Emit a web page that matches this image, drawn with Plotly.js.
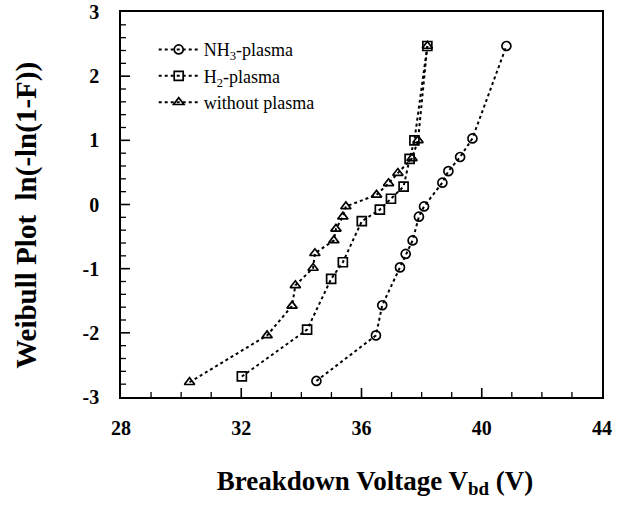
<!DOCTYPE html>
<html>
<head>
<meta charset="utf-8">
<script src="https://cdn.plot.ly/plotly-3.0.1.min.js"></script>
<style>body{margin:0;padding:0;background:#fff;} #chart{width:626px;height:506px;}</style>
</head>
<body>
<div id="chart"></div>
<script>
// NH3-plasma (circles)
const nh3X = [34.5, 36.48, 36.69, 37.28, 37.47, 37.7, 37.91, 38.08, 38.69, 38.89, 39.28, 39.69, 40.82];
const nh3Y = [-2.75, -2.04, -1.57, -0.98, -0.77, -0.56, -0.19, -0.03, 0.34, 0.52, 0.74, 1.03, 2.47];
// H2-plasma (squares)
const h2X = [32.02, 34.19, 34.99, 35.38, 36.01, 36.61, 36.98, 37.4, 37.6, 37.76, 38.19];
const h2Y = [-2.68, -1.95, -1.16, -0.9, -0.26, -0.08, 0.09, 0.28, 0.71, 1.0, 2.47];
// without plasma (triangles)
const woX = [30.28, 32.86, 33.69, 33.8, 34.39, 34.45, 35.08, 35.15, 35.38, 35.48, 36.5, 36.9, 37.21, 37.68, 37.88, 38.19];
const woY = [-2.77, -2.04, -1.58, -1.26, -0.99, -0.76, -0.56, -0.38, -0.19, -0.03, 0.15, 0.33, 0.49, 0.72, 1.0, 2.47];

const xTicks = [28, 32, 36, 40, 44];
const yTicks = [-3, -2, -1, 0, 1, 2, 3];
const xMinorStep = 1;
const yMinorStep = 0.2;
const xRange = [xTicks[0], xTicks[xTicks.length - 1]];
const yRange = [yTicks[0], yTicks[yTicks.length - 1]];

const W = 626, H = 506, M = {l: 121, r: 24, t: 12, b: 109};
const plotW = W - M.l - M.r, plotH = H - M.t - M.b;

const lineStyle = {color: '#000', width: 2, dash: 'dot'};
function mk(sym) { return {symbol: sym, size: 9, color: '#000', line: {color: '#000', width: 1.7}}; }

const traces = [
  {x: nh3X, y: nh3Y, name: 'NH<sub>3</sub>-plasma', mode: 'lines+markers', line: lineStyle, marker: mk('circle-open')},
  {x: h2X, y: h2Y, name: 'H<sub>2</sub>-plasma', mode: 'lines+markers', line: lineStyle, marker: mk('square-open')},
  {x: woX, y: woY, name: 'without plasma', mode: 'lines+markers', line: lineStyle, marker: mk('triangle-up-open')}
];

// inside tick marks as shapes (length given in px, converted to paper fraction)
const shapes = [];
function xTick(v, len, w) {
  shapes.push({type: 'line', xref: 'x', yref: 'paper', x0: v, x1: v, y0: 0, y1: len / plotH,
               line: {color: '#000', width: w}, layer: 'above'});
}
function yTick(v, len, w) {
  shapes.push({type: 'line', xref: 'paper', yref: 'y', y0: v, y1: v, x0: 0, x1: len / plotW,
               line: {color: '#000', width: w}, layer: 'above'});
}
const nx = Math.round((xRange[1] - xRange[0]) / xMinorStep);
for (let i = 1; i < nx; i++) {
  const v = xRange[0] + i * xMinorStep;
  if (xTicks.indexOf(v) >= 0) xTick(v, 9, 1.6); else xTick(v, 5, 1.3);
}
const ny = Math.round((yRange[1] - yRange[0]) / yMinorStep);
for (let i = 1; i < ny; i++) {
  const v = +(yRange[0] + i * yMinorStep).toFixed(2);
  if (yTicks.indexOf(v) >= 0) yTick(v, 9, 1.6); else yTick(v, 5, 1.3);
}

const serif = 'Liberation Serif, Times New Roman, serif';
const tickFont = {family: serif, size: 20, color: '#000', weight: 'bold'};
const layout = {
  width: W, height: H,
  margin: M,
  paper_bgcolor: '#fff', plot_bgcolor: '#fff',
  showlegend: true,
  shapes: shapes,
  legend: {x: 0.068, y: 0.95, xanchor: 'left', yanchor: 'top', bgcolor: 'rgba(0,0,0,0)',
           font: {family: serif, size: 18, color: '#000'},
           tracegroupgap: 0, itemwidth: 40},
  xaxis: {
    range: xRange, tickmode: 'array', tickvals: xTicks, ticktext: xTicks.map(String),
    ticks: '', showline: true, linecolor: '#000', linewidth: 1.5, mirror: true,
    showgrid: false, zeroline: false, tickfont: tickFont, ticklabelstandoff: 12,
    title: {text: '<b>&nbsp;&nbsp;&nbsp;&nbsp;Breakdown Voltage V<sub>bd</sub> (V)</b>', standoff: 33,
            font: {family: serif, size: 27, color: '#000'}}
  },
  yaxis: {
    range: yRange, tickmode: 'array', tickvals: yTicks, ticktext: yTicks.map(String),
    ticks: '', showline: true, linecolor: '#000', linewidth: 1.5, mirror: true,
    showgrid: false, zeroline: false, tickfont: tickFont, ticklabelstandoff: 16,
    title: {text: '<b>Weibull Plot  ln(-ln(1-F))&nbsp;&nbsp;&nbsp;</b>', standoff: 37,
            font: {family: serif, size: 29, color: '#000'}}
  }
};

Plotly.newPlot('chart', traces, layout, {displayModeBar: false});
</script>
</body>
</html>
